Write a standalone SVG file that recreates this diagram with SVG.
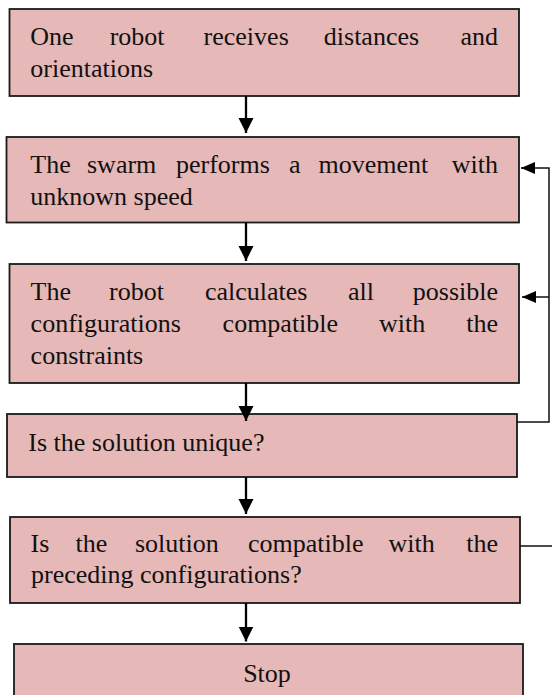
<svg xmlns="http://www.w3.org/2000/svg" width="552" height="695" viewBox="0 0 552 695">
<style>
  .box { fill: #E6B8B7; stroke: #1a1a1a; stroke-width: 1.8; }
  .t { font-family: "Liberation Serif", "Times New Roman", serif; font-size: 26px; fill: #111; }
  .e { text-anchor: end; }
  .c { text-anchor: middle; }
  .arrow { stroke: #000; stroke-width: 2.3; fill: none; }
  .loop { stroke: #111; stroke-width: 1.5; fill: none; }
</style>
<defs>
  <marker id="ah" markerUnits="userSpaceOnUse" markerWidth="16" markerHeight="16" refX="15" refY="7.5" orient="auto">
    <path d="M0,0 L15,7.5 L0,15 z" fill="#000"/>
  </marker>
  <marker id="ahs" markerUnits="userSpaceOnUse" markerWidth="15" markerHeight="13" refX="14" refY="6" orient="auto">
    <path d="M0,0 L14,6 L0,12 z" fill="#000"/>
  </marker>
</defs>

<g id="n1">
  <rect class="box" x="9.5" y="9" width="509.5" height="87"/>
  <text class="t" y="45"><tspan x="30.3">One</tspan><tspan x="109.7">robot</tspan><tspan x="203.6">receives</tspan><tspan x="323.8">distances</tspan><tspan x="498" class="e">and</tspan></text>
  <text class="t" x="30.3" y="77">orientations</text>
</g>

<g id="n2">
  <rect class="box" x="6.5" y="137" width="512.5" height="85.5"/>
  <text class="t" y="173"><tspan x="30.3">The</tspan><tspan x="87">swarm</tspan><tspan x="176">performs</tspan><tspan x="289">a</tspan><tspan x="318.5">movement</tspan><tspan x="498" class="e">with</tspan></text>
  <text class="t" x="30.3" y="205">unknown speed</text>
</g>

<g id="n3">
  <rect class="box" x="9.5" y="264" width="509.5" height="119"/>
  <text class="t" y="300"><tspan x="30.6">The</tspan><tspan x="109">robot</tspan><tspan x="205">calculates</tspan><tspan x="348">all</tspan><tspan x="498" class="e">possible</tspan></text>
  <text class="t" y="332"><tspan x="30.6">configurations</tspan><tspan x="222.6">compatible</tspan><tspan x="379">with</tspan><tspan x="498" class="e">the</tspan></text>
  <text class="t" x="30.6" y="364">constraints</text>
</g>

<g id="n4">
  <rect class="box" x="7" y="414" width="510" height="63"/>
  <text class="t" x="28.3" y="451">Is the solution unique?</text>
</g>

<g id="n5">
  <rect class="box" x="10" y="517" width="510" height="86"/>
  <text class="t" y="552"><tspan x="30.6">Is</tspan><tspan x="75.6">the</tspan><tspan x="135">solution</tspan><tspan x="248">compatible</tspan><tspan x="388.6">with</tspan><tspan x="498" class="e">the</tspan></text>
  <text class="t" x="31" y="583">preceding configurations?</text>
</g>

<g id="n6">
  <rect class="box" x="14" y="644" width="509" height="62"/>
  <text class="t c" x="267" y="682">Stop</text>
</g>

<g id="connectors">
  <line class="arrow" x1="246" y1="96" x2="246" y2="133" marker-end="url(#ah)"/>
  <line class="arrow" x1="246" y1="222.5" x2="246" y2="261" marker-end="url(#ah)"/>
  <line class="arrow" x1="246" y1="383" x2="246" y2="421" marker-end="url(#ah)"/>
  <line class="arrow" x1="246" y1="477" x2="246" y2="514" marker-end="url(#ah)"/>
  <line class="arrow" x1="246" y1="603" x2="246" y2="641.5" marker-end="url(#ah)"/>
  <path class="loop" d="M517,422 H549 V168 H521" marker-end="url(#ahs)"/>
  <path class="loop" d="M549,297 H522" marker-end="url(#ahs)"/>
  <path class="loop" d="M520,546 H552"/>
</g>
</svg>
